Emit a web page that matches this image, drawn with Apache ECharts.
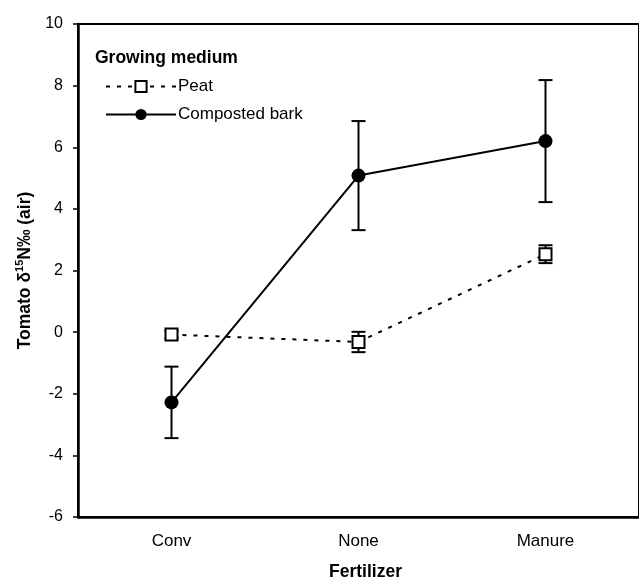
<!DOCTYPE html>
<html>
<head>
<meta charset="utf-8">
<script src="https://cdn.jsdelivr.net/npm/echarts@6/dist/echarts.min.js"></script>
<style>html,body{margin:0;padding:0;background:#fff}#c{width:639px;height:586px}</style>
</head>
<body>
<div id="c"></div>
<script>
const categories = ['Conv', 'None', 'Manure'];
const peatMean = [-0.08, -0.32, 2.53];
const peatErr = [0.12, 0.33, 0.29];
const barkMean = [-2.28, 5.08, 6.2];
const barkErr = [1.16, 1.77, 1.98];
const yTicks = [-6, -4, -2, 0, 2, 4, 6, 8, 10];

const chart = echarts.init(document.getElementById('c'));
const font = '"Liberation Sans", Arial, sans-serif';

function errData(mean, err) {
  return mean.map((m, i) => [i, m - err[i], m + err[i]]);
}
function errSeries(name, mean, err, z) {
  return {
    type: 'custom',
    name: name + ' err',
    z: z,
    silent: true,
    data: errData(mean, err),
    renderItem: function (params, api) {
      const x = api.value(0);
      const lo = api.coord([x, api.value(1)]);
      const hi = api.coord([x, api.value(2)]);
      const w = 7;
      const st = { stroke: '#000', lineWidth: 2 };
      return {
        type: 'group',
        children: [
          { type: 'line', shape: { x1: lo[0], y1: lo[1], x2: hi[0], y2: hi[1] }, style: st },
          { type: 'line', shape: { x1: lo[0] - w, y1: lo[1], x2: lo[0] + w, y2: lo[1] }, style: st },
          { type: 'line', shape: { x1: hi[0] - w, y1: hi[1], x2: hi[0] + w, y2: hi[1] }, style: st }
        ]
      };
    }
  };
}

chart.setOption({
  animation: false,
  textStyle: { fontFamily: font },
  title: {
    text: 'Growing medium',
    left: 90, top: 44,
    textStyle: { fontFamily: font, fontSize: 17.5, fontWeight: 'bold', color: '#000' }
  },
  legend: {
    data: ['Peat', 'Composted bark'],
    orient: 'vertical',
    left: 100, top: 73,
    itemWidth: 70, itemHeight: 14, itemGap: 11,
    textStyle: { fontFamily: font, fontSize: 17, color: '#000', padding: [0, 0, 0, -3] }
  },
  grid: {
    left: 78, top: 24, width: 570, height: 498,
    show: true, borderColor: '#000', borderWidth: 2, backgroundColor: 'transparent'
  },
  xAxis: {
    type: 'category',
    data: categories,
    boundaryGap: true,
    name: 'Fertilizer',
    nameLocation: 'middle',
    nameGap: 46,
    nameTextStyle: { fontFamily: font, fontSize: 17.5, fontWeight: 'bold', color: '#000', padding: [0, 0, 0, 14] },
    axisLine: { onZero: false, lineStyle: { color: '#000', width: 2.5 } },
    axisTick: { show: false },
    axisLabel: { fontFamily: font, fontSize: 17, color: '#000', margin: 16 },
    splitLine: { show: false }
  },
  yAxis: {
    type: 'value',
    min: -6, max: 10, interval: 2,
    name: '{a|Tomato δ}{s|15}{a|N‰ (air)}',
    nameLocation: 'middle',
    nameGap: 42,
    nameTextStyle: {
      fontFamily: font, fontSize: 17.5, fontWeight: 'bold', color: '#000',
      rich: {
        a: { fontFamily: font, fontSize: 17.5, fontWeight: 'bold', color: '#000', lineHeight: 22 },
        s: { fontFamily: font, fontSize: 11, fontWeight: 'bold', color: '#000', verticalAlign: 'top', lineHeight: 22, padding: [0, 0, 8, 0] }
      }
    },
    axisLine: { show: true, onZero: false, lineStyle: { color: '#000', width: 2.5 } },
    axisTick: { show: true, inside: false, length: 5, lineStyle: { color: '#000', width: 1.5 } },
    axisLabel: {
      fontFamily: font, fontSize: 16, color: '#000', margin: 15,
      formatter: function (v) { return yTicks.indexOf(v) >= 0 ? String(v) : ''; }
    },
    splitLine: { show: false }
  },
  series: [
    errSeries('Composted bark', barkMean, barkErr, 3),
    errSeries('Peat', peatMean, peatErr, 3),
    {
      name: 'Peat',
      type: 'line',
      data: peatMean,
      z: 5,
      symbol: 'rect',
      symbolSize: 12,
      lineStyle: { color: '#000', width: 2, type: [4, 7] },
      itemStyle: { color: '#fff', borderColor: '#000', borderWidth: 2 }
    },
    {
      name: 'Composted bark',
      type: 'line',
      data: barkMean,
      z: 5,
      symbol: 'circle',
      symbolSize: 14,
      lineStyle: { color: '#000', width: 2, type: 'solid' },
      itemStyle: { color: '#000', borderColor: '#000', borderWidth: 0 }
    }
  ]
});
</script>
</body>
</html>
